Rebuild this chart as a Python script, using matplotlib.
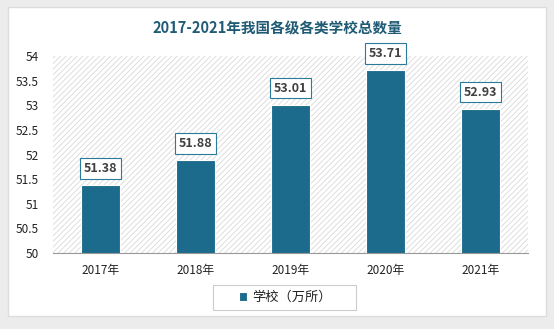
import matplotlib.pyplot as plt
from matplotlib.patches import Rectangle

plt.rcParams['font.family'] = ['Noto Sans CJK SC', 'DejaVu Sans']
plt.rcParams['hatch.linewidth'] = 0.6

years = ['2017年', '2018年', '2019年', '2020年', '2021年']
schools = [51.38, 51.88, 53.01, 53.71, 52.93]
yticks = [50, 50.5, 51, 51.5, 52, 52.5, 53, 53.5, 54]
yticklabels = ['50', '50.5', '51', '51.5', '52', '52.5', '53', '53.5', '54']

bar_color = '#1c6a8c'

fig = plt.figure(figsize=(5.54, 3.29), dpi=100, facecolor='#ececec')

# white card
card = Rectangle((8 / 554, 13 / 329), 538 / 554, 309 / 329,
                 transform=fig.transFigure, facecolor='white',
                 edgecolor='#dcdcdc', lw=1, zorder=-5)
fig.add_artist(card)

ax = fig.add_axes([53 / 554, 1 - 253 / 329, 475 / 554, 197 / 329])
ax.set_facecolor('none')
ax.add_patch(Rectangle((0, 0), 1, 1, transform=ax.transAxes, facecolor='white',
                       edgecolor='#d9d9d9', hatch='//////', lw=0, zorder=0))

x = range(len(years))
bars = ax.bar(x, schools, width=0.42, bottom=0, color=bar_color,
              edgecolor='white', linewidth=0.8, zorder=2, label='学校（万所）')

for xi, v in zip(x, schools):
    ax.annotate(f'{v:.2f}', (xi, v), xytext=(0, 12), textcoords='offset points',
                ha='center', va='center', fontsize=9, fontweight='bold',
                color='#404040', zorder=3,
                bbox=dict(boxstyle='square,pad=0.3', facecolor='white',
                          edgecolor='#2a7a9a', lw=0.8))

ax.set_ylim(50, 54)
ax.set_xlim(-0.5, 4.5)
ax.set_yticks(yticks)
ax.set_yticklabels(yticklabels)
ax.set_xticks(list(x))
ax.set_xticklabels(years)
ax.tick_params(length=0, labelsize=8.5, colors='#222222')
ax.tick_params(axis='x', pad=8)
ax.tick_params(axis='y', pad=10)
for s in ['top', 'right', 'left']:
    ax.spines[s].set_visible(False)
ax.spines['bottom'].set_color('#999999')

fig.text(0.5, 1 - 28 / 329, '2017-2021年我国各级各类学校总数量', ha='center',
         va='center', fontsize=10.5, fontweight='bold', color='#1f5b75')

# legend frame
fig.add_artist(Rectangle((213 / 554, 1 - 310 / 329), 143 / 554, 25 / 329,
                         transform=fig.transFigure, facecolor='white',
                         edgecolor='#cccccc', lw=0.8))
leg = fig.legend(handles=[bars], labels=['学校（万所）'], loc='center',
                 bbox_to_anchor=(285 / 554, 1 - 297.5 / 329), fontsize=9.5,
                 frameon=False, handlelength=0.6, handleheight=0.6,
                 handletextpad=0.4, borderaxespad=0)
plt.setp(leg.get_texts(), color='#222222')

fig.savefig('out.png', dpi=100, facecolor=fig.get_facecolor())
